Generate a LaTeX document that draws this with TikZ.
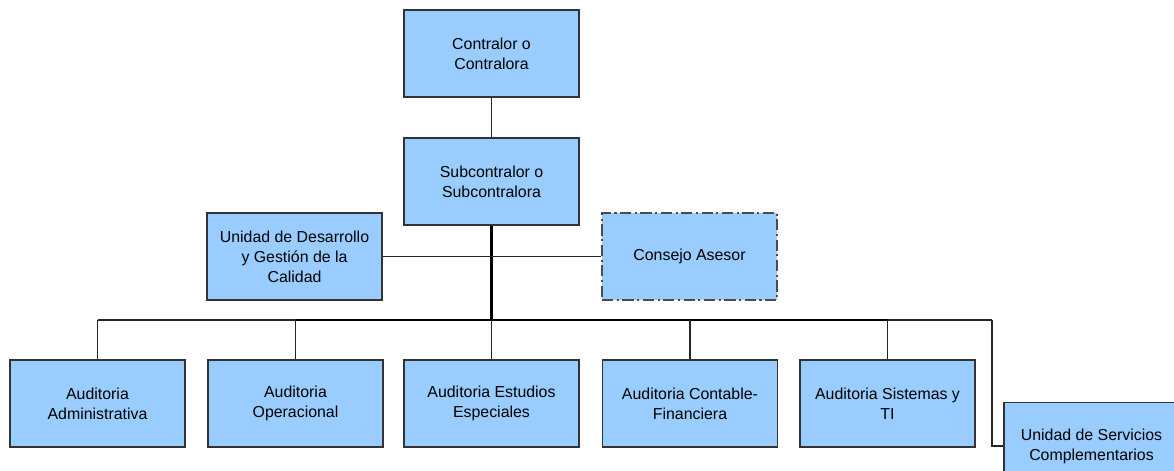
\documentclass[tikz,border=0pt]{standalone}
\usepackage{fontspec}
\setmainfont{Liberation Sans}
\usetikzlibrary{positioning}

\definecolor{boxblue}{HTML}{99CCFF}
\definecolor{boxline}{HTML}{333333}

\tikzset{
  orgbox/.style={draw=boxline, line width=1.1pt, fill=boxblue, minimum width=4.375cm,
    minimum height=2.175cm, align=center, font=\fontsize{11.3}{14.2}\selectfont, inner sep=2pt},
  advisor/.style={orgbox, line width=1.3pt, draw=black!70, dash pattern=on 8pt off 2.5pt on 1.5pt off 2.5pt},
  link/.style={draw=black!85, line width=0.8pt},
  trunk/.style={draw=black, line width=1.6pt}
}

\begin{document}
\begin{tikzpicture}[x=0.025cm, y=-0.025cm]
            \useasboundingbox (0,0) rectangle (1174,471);
            \clip (0,0) rectangle (1174,471);

            % Top of the hierarchy
            \node[orgbox] (contralor) at (491.5,53.5) {Contralor o\\Contralora};
            \node[orgbox] (subcontralor) at (491.5,181.5) {Subcontralor o\\Subcontralora};

            % Staff units
            \node[orgbox] (desarrollo) at (294.5,256.5) {Unidad de Desarrollo\\y Gestión de la\\Calidad};
            \node[advisor] (consejo) at (689.5,256.5) {Consejo Asesor};

            % Audit units
            \node[orgbox] (audadm) at (97.5,403.5) {Auditoria\\Administrativa};
            \node[orgbox] (audope) at (295.5,403.5) {Auditoria\\Operacional};
            \node[orgbox] (audesp) at (491.5,403.5) {Auditoria Estudios\\Especiales};
            \node[orgbox] (audcon) at (690,403.5) {Auditoria Contable-\\Financiera};
            \node[orgbox] (audsis) at (887.5,403.5) {Auditoria Sistemas y\\TI};
            \node[orgbox] (servicios) at (1091.5,446) {Unidad de Servicios\\Complementarios};

            % Bus
            \coordinate (busl) at (97.5,320);
            \coordinate (busm) at (491.5,320);
            \coordinate (busr) at (992,320);

            % Connectors
            \draw[link] (contralor) -- (subcontralor);
            \draw[trunk] (subcontralor.south) -- (busm);
            \draw[link] (desarrollo) -- (consejo);
            \draw[link] (busl) -- (busr);
            \draw[line width=1.3pt] (295.5,320) -- (887.5,320);
            \draw[link] (busl) -- (audadm.north);
            \draw[link] (295.5,320) -- (audope.north);
            \draw[link] (busm) -- (audesp.north);
            \draw[link] (690,320) -- (audcon.north);
            \draw[link] (887.5,320) -- (audsis.north);
            \draw[link] (busr) |- (servicios.west);

        \end{tikzpicture}
\end{document}
